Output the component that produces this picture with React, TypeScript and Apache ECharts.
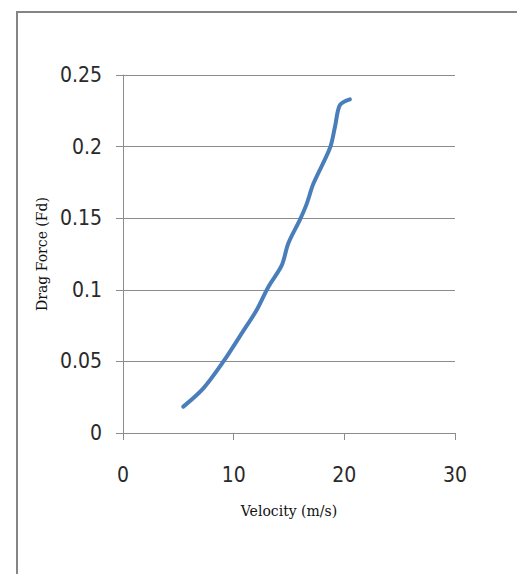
import React, { useEffect, useRef } from "react";
import * as echarts from "echarts";

const velocity = [5.45, 7.26, 9.06, 10.73, 12.08, 13.13, 14.34, 14.94, 15.99, 16.6, 17.2, 18.7, 19.16, 19.6, 20.5];
const dragForce = [0.0184, 0.0312, 0.0498, 0.0696, 0.0859, 0.102, 0.117, 0.1325, 0.149, 0.16, 0.174, 0.199, 0.214, 0.229, 0.233];
const xTicks = [0, 10, 20, 30];
const yTicks = [0, 0.05, 0.1, 0.15, 0.2, 0.25];
const xTitle = "Velocity (m/s)";
const yTitle = "Drag Force (Fd)";

export default function App() {
  const ref = useRef<HTMLDivElement>(null);
  useEffect(() => {
    if (!ref.current) return;
    const chart = echarts.init(ref.current, undefined, { renderer: "svg" });
    const tickFont = "'Liberation Sans Narrow', 'DejaVu Sans Condensed', 'Roboto', sans-serif";
    const titleFont = "'DejaVu Serif', 'Liberation Serif', serif";
    chart.setOption({
      animation: false,
      backgroundColor: "#ffffff",
      grid: { left: 123, top: 75, width: 332, height: 358, containLabel: false },
      graphic: [
        {
          type: "rect",
          shape: { x: 17, y: 12, width: 600, height: 700 },
          style: { fill: "none", stroke: "#858585", lineWidth: 2 },
          silent: true,
        },
      ],
      xAxis: {
        type: "value",
        min: xTicks[0],
        max: xTicks[xTicks.length - 1],
        interval: 10,
        name: xTitle,
        nameLocation: "middle",
        nameGap: 71,
        nameTextStyle: { fontFamily: titleFont, fontSize: 14, color: "#111" },
        axisLine: { show: true, onZero: false, lineStyle: { color: "#8c8c8c", width: 1 } },
        axisTick: { show: true, length: 7, lineStyle: { color: "#8c8c8c" } },
        axisLabel: { fontFamily: tickFont, fontSize: 21, color: "#2a2a2a", margin: 31 },
        splitLine: { show: false },
      },
      yAxis: {
        type: "value",
        min: yTicks[0],
        max: yTicks[yTicks.length - 1],
        interval: 0.05,
        name: yTitle,
        nameLocation: "middle",
        nameGap: 72,
        nameTextStyle: { fontFamily: titleFont, fontSize: 14, color: "#111" },
        axisLine: { show: true, lineStyle: { color: "#8c8c8c", width: 1 } },
        axisTick: { show: true, length: 7, lineStyle: { color: "#8c8c8c" } },
        axisLabel: { fontFamily: tickFont, fontSize: 21, color: "#2a2a2a", margin: 21 },
        splitLine: { show: true, lineStyle: { color: "#8c8c8c", width: 1 } },
      },
      series: [
        {
          type: "line",
          data: velocity.map((v, i) => [v, dragForce[i]]),
          smooth: 0.3,
          symbol: "none",
          lineStyle: { color: "#4A7EBB", width: 4, cap: "round" },
        },
      ],
    });
    return () => chart.dispose();
  }, []);
  return (
    <div
      ref={ref}
      style={{ position: "absolute", left: 0, top: 0, width: 517, height: 574 }}
    />
  );
}
